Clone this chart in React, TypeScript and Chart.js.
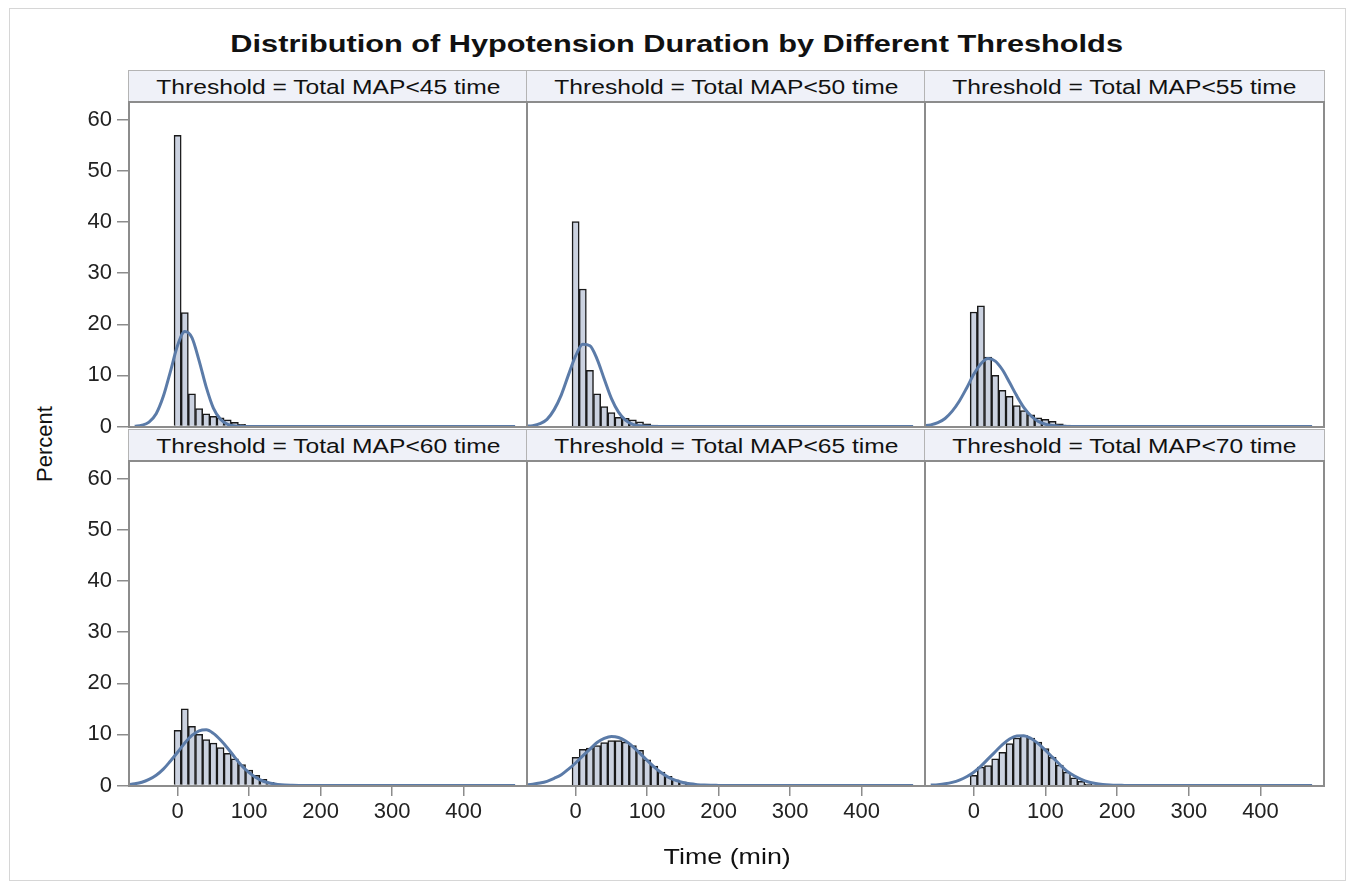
import React, { useEffect, useRef } from "react";
import { Chart, registerables } from "chart.js";

Chart.register(...registerables);

// ---------- data ----------
const TITLE = "Distribution of Hypotension Duration by Different Thresholds";
const X_TITLE = "Time (min)";
const Y_TITLE = "Percent";
const PANEL_LABELS = [
  "Threshold = Total MAP<45 time",
  "Threshold = Total MAP<50 time",
  "Threshold = Total MAP<55 time",
  "Threshold = Total MAP<60 time",
  "Threshold = Total MAP<65 time",
  "Threshold = Total MAP<70 time",
];

// histogram bin midpoints (min)
const BIN_CENTERS = [0, 10, 20, 30, 40, 50, 60, 70, 80, 90, 100, 110, 120, 130, 140, 150, 160, 170, 180];

// histogram percentages per threshold
const BARS_45 = [57.0, 22.3, 6.4, 3.5, 2.5, 2.0, 1.7, 1.3, 0.8, 0.4, 0.2];
const BARS_50 = [40.1, 26.9, 11.0, 6.4, 3.9, 2.7, 1.8, 1.6, 1.3, 0.9, 0.5, 0.3, 0.1];
const BARS_55 = [22.4, 23.6, 13.6, 10.0, 7.1, 5.9, 4.1, 3.1, 2.3, 1.7, 1.4, 1.0, 0.5, 0.3, 0.1];
const BARS_60 = [10.8, 15.0, 11.6, 10.0, 9.0, 8.3, 7.4, 6.3, 5.2, 4.1, 3.0, 2.0, 1.2, 0.6, 0.3, 0.1];
const BARS_65 = [5.5, 7.1, 7.3, 7.8, 8.4, 8.8, 8.8, 8.5, 7.8, 6.9, 5.0, 3.8, 2.6, 1.8, 1.1, 0.7, 0.4, 0.2, 0.1];
const BARS_70 = [2.0, 3.6, 3.9, 5.2, 6.5, 8.2, 9.3, 9.8, 9.3, 8.5, 7.2, 5.5, 4.0, 2.6, 1.5, 0.8, 0.3];

// normal-density curve readings, every 10 min from the given start (min)
const CURVE_STEP = 10;
const CURVE_END = 472;
const CURVE_START_45 = -60;
const CURVE_45 = [0.05, 0.24, 0.87, 2.5, 5.9, 10.8, 15.9, 18.6, 17.4, 12.9, 7.7, 3.6, 1.4, 0.41, 0.1, 0.02, 0];
const CURVE_START_50 = -70;
const CURVE_50 = [0.05, 0.17, 0.54, 1.4, 3.3, 6.2, 10.1, 13.8, 16.1, 15.8, 13.2, 9.3, 5.5, 2.8, 1.2, 0.43, 0.13, 0.03, 0];
const CURVE_START_55 = -70;
const CURVE_55 = [0.12, 0.32, 0.75, 1.57, 3.0, 5.0, 7.5, 10.2, 12.3, 13.3, 12.8, 11.1, 8.6, 6.0, 3.7, 2.05, 1.0, 0.45, 0.18, 0.06, 0.02, 0];
const CURVE_START_60 = -70;
const CURVE_60 = [0.15, 0.33, 0.64, 1.2, 2.0, 3.2, 4.8, 6.5, 8.3, 9.8, 10.7, 10.9, 10.2, 8.9, 7.3, 5.5, 3.8, 2.5, 1.5, 0.83, 0.43, 0.21, 0.09, 0.04, 0.01, 0];
const CURVE_START_65 = -70;
const CURVE_65 = [0.13, 0.25, 0.47, 0.82, 1.4, 2.1, 3.2, 4.4, 5.8, 7.1, 8.4, 9.2, 9.6, 9.4, 8.7, 7.6, 6.3, 4.9, 3.6, 2.5, 1.6, 1.0, 0.59, 0.32, 0.17, 0.08, 0.04, 0.02, 0];
const CURVE_START_70 = -60;
const CURVE_70 = [0.08, 0.17, 0.33, 0.61, 1.05, 1.7, 2.6, 3.8, 5.2, 6.6, 8.0, 9.1, 9.7, 9.75, 9.2, 8.2, 6.9, 5.5, 4.1, 2.8, 1.9, 1.2, 0.68, 0.37, 0.19, 0.09, 0.04, 0.02, 0];

const X_TICKS = [0, 100, 200, 300, 400];
const Y_TICKS = [0, 10, 20, 30, 40, 50, 60];
const X_MIN = -68;
const X_MAX = 488.6;
const Y_MIN = -0.1;
const Y_MAX = 63.5;

const PANELS = [
  { bars: BARS_45, curveStart: CURVE_START_45, curve: CURVE_45 },
  { bars: BARS_50, curveStart: CURVE_START_50, curve: CURVE_50 },
  { bars: BARS_55, curveStart: CURVE_START_55, curve: CURVE_55 },
  { bars: BARS_60, curveStart: CURVE_START_60, curve: CURVE_60 },
  { bars: BARS_65, curveStart: CURVE_START_65, curve: CURVE_65 },
  { bars: BARS_70, curveStart: CURVE_START_70, curve: CURVE_70 },
];

// ---------- layout & style ----------
const FONT = "'Liberation Sans', Arial, sans-serif";
const COL_X = [129, 527, 925];
const COL_W = [398, 398, 399];
const HEADER_Y = [70, 429];
const HEADER_H = 32;
const PLOT_TOP = [102, 461];
const PLOT_H = 325;
const Y_AXIS_W = 60;
const X_AXIS_H = 50;
const LABEL_ROOM = 14;

const BAR_FILL = "#cbd2e0";
const BAR_EDGE = "#1a1a1a";
const CURVE_COLOR = "#5b7ba8";
const FRAME_COLOR = "#8c8c8c";
const HEADER_BG = "#eff1f8";
const HEADER_BORDER = "#b4b4b4";
const TICK_COLOR = "#8c8c8c";
const LABEL_COLOR = "#222222";

function Panel({ index }: { index: number }) {
  const ref = useRef<HTMLCanvasElement>(null);
  const col = index % 3;
  const row = Math.floor(index / 3);
  const showY = col === 0;
  const showX = row === 1;
  const left = COL_X[col] - (showY ? Y_AXIS_W : 0);
  const width = COL_W[col] + (showY ? Y_AXIS_W : 0);
  const top = PLOT_TOP[row];
  const bottomRoom = showX ? X_AXIS_H : showY ? LABEL_ROOM : 0;
  const height = PLOT_H + bottomRoom;

  useEffect(() => {
    const p = PANELS[index];
    const barData = p.bars.map((v, i) => ({ x: BIN_CENTERS[i], y: v }));
    const curveData = p.curve.map((v, i) => ({ x: p.curveStart + i * CURVE_STEP, y: v }));
    curveData.push({ x: CURVE_END, y: 0 });
    const tickFont = { family: FONT, size: 22 };
    const chart = new Chart(ref.current as HTMLCanvasElement, {
      type: "bar",
      data: {
        datasets: [
          {
            type: "line",
            data: curveData,
            borderColor: CURVE_COLOR,
            borderWidth: 3,
            pointRadius: 0,
            cubicInterpolationMode: "monotone",
            fill: false,
          } as any,
          {
            type: "bar",
            data: barData,
            backgroundColor: BAR_FILL,
            borderColor: BAR_EDGE,
            borderWidth: 1.5,
            barPercentage: 1,
            categoryPercentage: 1,
          } as any,
        ],
      },
      options: {
        animation: false,
        responsive: false,
        devicePixelRatio: 1,
        layout: { padding: { left: 0, right: 0, top: 0, bottom: !showX && showY ? LABEL_ROOM : 0 } },
        plugins: { legend: { display: false }, tooltip: { enabled: false } },
        scales: {
          x: {
            type: "linear",
            min: X_MIN,
            max: X_MAX,
            offset: false,
            display: showX,
            afterBuildTicks: (s: any) => {
              s.ticks = X_TICKS.map((v) => ({ value: v }));
            },
            afterFit: (s: any) => {
              if (showX) s.height = X_AXIS_H;
              s.paddingLeft = 0;
              s.paddingRight = 0;
            },
            grid: {
              display: true,
              offset: false,
              drawOnChartArea: false,
              drawTicks: true,
              tickLength: 10,
              color: TICK_COLOR,
              lineWidth: 1.5,
            },
            border: { display: false },
            ticks: { color: LABEL_COLOR, font: tickFont, padding: 3, maxRotation: 0, autoSkip: false },
          },
          y: {
            type: "linear",
            min: Y_MIN,
            max: Y_MAX,
            display: showY,
            afterBuildTicks: (s: any) => {
              s.ticks = Y_TICKS.map((v) => ({ value: v }));
            },
            afterFit: (s: any) => {
              if (showY) s.width = Y_AXIS_W;
              s.paddingTop = 0;
              s.paddingBottom = 0;
            },
            grid: {
              display: true,
              offset: false,
              drawOnChartArea: false,
              drawTicks: true,
              tickLength: 12,
              color: TICK_COLOR,
              lineWidth: 1.5,
            },
            border: { display: false },
            ticks: { color: LABEL_COLOR, font: tickFont, padding: 5, autoSkip: false },
          },
        },
      } as any,
    });
    return () => chart.destroy();
  }, [index]);

  return (
    <>
      <canvas
        ref={ref}
        width={width}
        height={height}
        style={{ position: "absolute", left, top, width, height }}
      />
      <div
        style={{
          position: "absolute",
          left: COL_X[col] - 1,
          top: HEADER_Y[row],
          width: COL_W[col] + 2,
          height: HEADER_H + 1,
          boxSizing: "border-box",
          background: HEADER_BG,
          border: `1px solid ${HEADER_BORDER}`,
          display: "flex",
          alignItems: "center",
          justifyContent: "center",
          overflow: "visible",
        }}
      >
        <span
          style={{
            fontFamily: FONT,
            fontSize: 20.5,
            color: "#111",
            whiteSpace: "nowrap",
            display: "inline-block",
            transform: "scaleX(1.2)",
          }}
        >
          {PANEL_LABELS[index]}
        </span>
      </div>
      <div
        style={{
          position: "absolute",
          left: COL_X[col] - 1,
          top: PLOT_TOP[row] - 1,
          width: COL_W[col] + 2,
          height: PLOT_H + 2,
          boxSizing: "border-box",
          border: `2px solid ${FRAME_COLOR}`,
          pointerEvents: "none",
        }}
      />
    </>
  );
}

export default function App() {
  return (
    <div
      style={{
        position: "absolute",
        left: 0,
        top: 0,
        width: 1354,
        height: 888,
        background: "#ffffff",
        overflow: "hidden",
        fontFamily: FONT,
      }}
    >
      <div
        style={{
          position: "absolute",
          left: 9,
          top: 8,
          width: 1337,
          height: 873,
          border: "1px solid #d6d6d6",
          boxSizing: "border-box",
        }}
      />
      <div
        style={{
          position: "absolute",
          left: 0,
          top: 30,
          width: 1354,
          height: 28,
          lineHeight: "28px",
          textAlign: "center",
        }}
      >
        <span
          style={{
            display: "inline-block",
            fontWeight: "bold",
            fontSize: 24,
            color: "#111",
            transform: "scaleX(1.28)",
            whiteSpace: "nowrap",
          }}
        >
          {TITLE}
        </span>
      </div>
      {PANELS.map((_, i) => (
        <Panel key={i} index={i} />
      ))}
      <div
        style={{
          position: "absolute",
          left: 45 - 60,
          top: 444 - 14,
          width: 120,
          height: 28,
          lineHeight: "28px",
          textAlign: "center",
          fontSize: 22,
          color: "#111",
          transform: "rotate(-90deg)",
        }}
      >
        {Y_TITLE}
      </div>
      <div
        style={{
          position: "absolute",
          left: 727 - 100,
          top: 857 - 14,
          width: 200,
          height: 28,
          lineHeight: "28px",
          textAlign: "center",
        }}
      >
        <span style={{ display: "inline-block", fontSize: 22, color: "#111", transform: "scaleX(1.22)" }}>{X_TITLE}</span>
      </div>
    </div>
  );
}
